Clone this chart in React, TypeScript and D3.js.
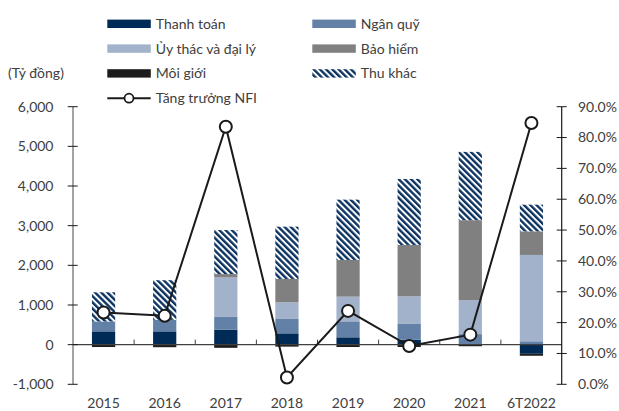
import React from "react";
import * as d3 from "d3";

const categories = ["2015", "2016", "2017", "2018", "2019", "2020", "2021", "6T2022"];
const thanhToan = [335, 335, 380, 285, 185, 126, 0, -230];
const nganQuy = [250, 290, 330, 363, 403, 396, 265, 85];
const uyThac = [0, 0, 985, 419, 622, 696, 857, 2177];
const baoHiem = [0, 0, 85, 590, 926, 1296, 2017, 595];
const moiGioi = [-60, -65, -80, -50, -60, -60, -40, -50];
const thuKhac = [735, 1000, 1110, 1318, 1520, 1664, 1722, 673];
const nfiGrowth = [23.3, 22.2, 83.5, 2.2, 23.8, 12.4, 16.1, 84.7];

const leftTicks = [-1000, 0, 1000, 2000, 3000, 4000, 5000, 6000];
const rightTicks = [0, 10, 20, 30, 40, 50, 60, 70, 80, 90];

const seriesNames = ["Thanh toán", "Ngân quỹ", "Ủy thác và đại lý", "Bảo hiểm", "Môi giới", "Thu khác"];
const seriesValues = [thanhToan, nganQuy, uyThac, baoHiem, moiGioi, thuKhac];
const seriesFills = ["#002b57", "#6381a7", "#a2b2cb", "#808080", "#1c1c1c", "url(#hatch)"];
const lineName = "Tăng trưởng NFI";

const FONT = "Lato, 'Noto Sans', sans-serif";
const TEXT = "#404040";

export default function App() {
  const W = 619, H = 411;
  const x = d3.scaleBand<string>().domain(categories).range([73, 562]).padding(0);
  const y = d3.scaleLinear().domain([-1000, 6000]).range([384.3, 106.7]);
  const yR = d3.scaleLinear().domain([0, 90]).range([384.3, 106.7]);
  const barW = x.bandwidth() * 0.38;

  const table = categories.map((c, i) => {
    const row: any = { cat: c };
    seriesNames.forEach((n, k) => (row[n] = seriesValues[k][i]));
    return row;
  });
  const stack = d3.stack<any>().keys(seriesNames).offset(d3.stackOffsetDiverging);
  const stacked = stack(table);

  const fmtL = (v: number) => d3.format(",")(v).replace("−", "-");
  const fmtR = (v: number) => d3.format(".1f")(v) + "%";

  const cx = (c: string) => (x(c) as number) + x.bandwidth() / 2;
  const line = d3
    .line<number>()
    .x((_, i) => cx(categories[i]))
    .y((d) => yR(d));

  const legendItems = [
    { name: seriesNames[0], fill: seriesFills[0], col: 0, row: 0 },
    { name: seriesNames[1], fill: seriesFills[1], col: 1, row: 0 },
    { name: seriesNames[2], fill: seriesFills[2], col: 0, row: 1 },
    { name: seriesNames[3], fill: seriesFills[3], col: 1, row: 1 },
    { name: seriesNames[4], fill: seriesFills[4], col: 0, row: 2 },
    { name: seriesNames[5], fill: seriesFills[5], col: 1, row: 2 },
  ];
  const legX = [107.3, 312.3];
  const legY = (r: number) => 23.8 + r * 24.8;

  return (
    <svg width={W} height={H} style={{ position: "absolute", left: 0, top: 0, background: "#fff" }} fontFamily={FONT}>
      <defs>
        <pattern id="hatch" patternUnits="userSpaceOnUse" width="4.4" height="4.4" patternTransform="rotate(-45)">
          <rect width="4.4" height="4.4" fill="#ffffff" />
          <rect width="2.4" height="4.4" fill="#0b3260" />
        </pattern>
      </defs>

      {/* legend */}
      {legendItems.map((it) => (
        <g key={it.name}>
          <rect x={legX[it.col]} y={legY(it.row) - 4.2} width={43.5} height={8.4} fill={it.fill} />
          <text x={legX[it.col] + 48.5} y={legY(it.row)} dy="0.35em" fontSize={14} fill={TEXT}>
            {it.name}
          </text>
        </g>
      ))}
      <line x1={107.3} x2={150.7} y1={legY(3)} y2={legY(3)} stroke="#1a1a1a" strokeWidth={2} />
      <circle cx={129} cy={legY(3)} r={4.5} fill="#fff" stroke="#1a1a1a" strokeWidth={1.8} />
      <text x={155.8} y={legY(3)} dy="0.35em" fontSize={14} fill={TEXT}>
        {lineName}
      </text>

      <text x={8} y={73.5} dy="0.35em" fontSize={14} fill={TEXT}>
        (Tỷ đồng)
      </text>

      {/* bars */}
      {stacked.map((s, k) => (
        <g key={s.key} fill={seriesFills[k]}>
          {s.map((d, i) => {
            const y0 = y(d[0]);
            const y1 = y(d[1]);
            const h = Math.abs(y0 - y1);
            if (h < 0.01) return null;
            return <rect key={i} x={cx(categories[i]) - barW / 2} y={Math.min(y0, y1)} width={barW} height={h} />;
          })}
        </g>
      ))}

      {/* zero line and category ticks */}
      <line x1={73} x2={562} y1={y(0)} y2={y(0)} stroke="#404040" strokeWidth={1.3} />
      {categories.slice(1).map((c) => (
        <line key={c} x1={x(c) as number} x2={x(c) as number} y1={y(0)} y2={y(0) - 5} stroke="#404040" strokeWidth={1} />
      ))}

      {/* left axis */}
      <line x1={73} x2={73} y1={y(6000)} y2={y(-1000)} stroke="#666" strokeWidth={1.2} />
      {leftTicks.map((t) => (
        <g key={t}>
          <line x1={67.7} x2={77.7} y1={y(t)} y2={y(t)} stroke="#1a1a1a" strokeWidth={1} />
          <text x={53.5} y={y(t)} dy="0.35em" textAnchor="end" fontSize={14} fill={TEXT}>
            {fmtL(t)}
          </text>
        </g>
      ))}

      {/* right axis */}
      <line x1={561.7} x2={561.7} y1={yR(90)} y2={yR(0)} stroke="#1a1a1a" strokeWidth={1.2} />
      {rightTicks.map((t) => (
        <g key={t}>
          <line x1={556.7} x2={566.7} y1={yR(t)} y2={yR(t)} stroke="#1a1a1a" strokeWidth={1} />
          <text x={578} y={yR(t)} dy="0.35em" fontSize={14} fill={TEXT}>
            {fmtR(t)}
          </text>
        </g>
      ))}

      {/* x labels */}
      {categories.map((c) => (
        <text key={c} x={cx(c)} y={407.5} textAnchor="middle" fontSize={14} fill={TEXT}>
          {c}
        </text>
      ))}

      {/* growth line */}
      <path d={line(nfiGrowth) || ""} fill="none" stroke="#1a1a1a" strokeWidth={2} />
      {nfiGrowth.map((v, i) => (
        <circle key={i} cx={cx(categories[i])} cy={yR(v)} r={6} fill="#fff" stroke="#1a1a1a" strokeWidth={2} />
      ))}
    </svg>
  );
}
